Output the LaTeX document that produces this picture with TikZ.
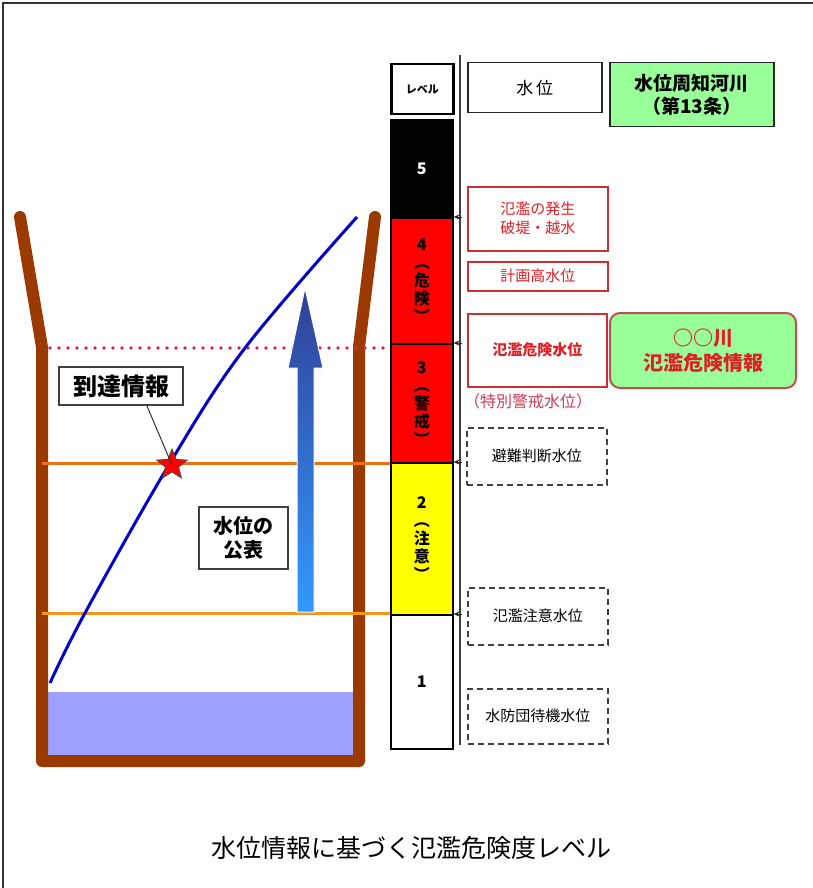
\documentclass[tikz,border=0pt]{standalone}
\usepackage{fontspec}
\setmainfont{Noto Sans CJK JP}
\usetikzlibrary{shapes.geometric,arrows.meta}
\definecolor{riverbrown}{RGB}{155,58,0}
\definecolor{lvred}{RGB}{255,0,0}
\definecolor{lvyellow}{RGB}{255,255,0}
\definecolor{lgreen}{RGB}{153,255,153}
\definecolor{boxred}{RGB}{200,50,55}
\definecolor{txtred}{RGB}{225,30,35}
\definecolor{pinkred}{RGB}{205,60,90}
\definecolor{roundborder}{RGB}{192,80,77}
\definecolor{waterblue}{RGB}{160,160,255}
\definecolor{orangeA}{RGB}{240,110,20}
\definecolor{orangeB}{RGB}{247,150,30}
\definecolor{dotred}{RGB}{230,30,60}
\definecolor{curveblue}{RGB}{0,0,200}
\definecolor{arrowtop}{RGB}{48,64,150}
\definecolor{arrowbot}{RGB}{51,153,255}
\newcommand\fsz[2]{\fontsize{#1}{#2}\selectfont}
\tikzset{
  lvbox/.style={draw=black, line width=1.5pt, minimum width=62pt, inner sep=0pt, anchor=north west, align=center, font=\fsz{16}{18}\bfseries},
  plainbox/.style={draw=black!85, line width=1.5pt, inner sep=0pt, anchor=north west, align=center},
  redbox/.style={draw=boxred, line width=1.5pt, inner sep=0pt, anchor=north west, align=center, text=txtred, font=\fsz{15}{19}},
  dashbox/.style={draw=black!75, line width=1.5pt, dash pattern=on 6pt off 4pt, inner sep=0pt, anchor=north west, align=center, font=\fsz{15}{19}},
  calloutbox/.style={draw=black!75, line width=1.2pt, fill=white, inner sep=0pt, align=center, font=\bfseries},
  tinytip/.style={-{Stealth[length=6pt,width=5pt]}, line width=1pt, black!85},
}
\begin{document}
\begin{tikzpicture}[x=1pt,y=-1pt]
\useasboundingbox (0,0) rectangle (813,888);
% outer frame (top and left edges)
\draw[black!80, line width=1.5pt] (3,888) -- (3,3) -- (813,3);

% water
\fill[waterblue] (47,692) rectangle (353,755);
% river banks
\draw[riverbrown, line width=12pt, line join=round, line cap=round]
  (20,217) -- (42,347) -- (42,761) -- (359,761) -- (359,347) -- (375,217);

% levels lines
\draw[dotred, line width=3.6pt, line cap=round, dash pattern=on 0pt off 9pt] (50,348) -- (388,348);
\draw[orangeA, line width=3pt] (42,463) -- (390,463);
\draw[orangeB, line width=3pt] (42,613) -- (390,613);

% blue rising arrow
\shade[top color=arrowtop, bottom color=arrowbot, draw=white, line width=1pt]
  (297,612) -- (297,368) -- (288,368) -- (305,288) -- (323,368) -- (314,368) -- (314,612) -- cycle;

% water level curve
\draw[curveblue, line width=3pt] plot[smooth, tension=0.6] coordinates {(50,683) (85,613) (170,463) (245,348) (357,217)};

% star
\node[star, star points=5, star point ratio=2.3, fill=red, draw=black!70, line width=0.8pt, minimum size=32pt, inner sep=0pt] (star) at (172,465) {};

% callouts
\node[calloutbox, minimum width=124pt, minimum height=38pt, font=\fsz{24}{28}\bfseries] (arrival) at (121,386) {到達情報};
\coordinate (ptr) at (147,406);
\draw[black!80, line width=1pt] (ptr) -- (star.center);
\node[calloutbox, minimum width=89pt, minimum height=62pt, font=\fsz{20}{24}\bfseries] (publish) at (243.5,538) {水位の\\公表};

% level column
\node[lvbox, line width=2.5pt, minimum height=50pt, font=\fsz{11}{13}\bfseries] (lvhead) at (390,63) {レベル};
\node[lvbox, fill=black, text=white, minimum height=98pt] (lv5) at (390,119) {5};
\node[lvbox, fill=lvred, minimum height=126pt] (lv4) at (390,217) {4\\︵\\危\\険\\︶};
\node[lvbox, fill=lvred, minimum height=119pt] (lv3) at (390,343) {3\\︵\\警\\戒\\︶};
\node[lvbox, fill=lvyellow, minimum height=152pt] (lv2) at (390,462) {2\\︵\\注\\意\\︶};
\node[lvbox, fill=white, minimum height=134pt] (lv1) at (390,614) {1};

% vertical divider
\coordinate (vtop) at (460,55);
\coordinate (vbot) at (460,745);
\draw[black!75, line width=1.5pt] (vtop) -- (vbot);

% small pointer tips
\draw[tinytip] ([xshift=8pt]lv4.north east) -- (lv4.north east);
\draw[tinytip] ([xshift=8pt]lv3.north east) -- (lv3.north east);
\draw[tinytip] ([xshift=8pt]lv2.north east) -- (lv2.north east);
\draw[tinytip] ([xshift=8pt]lv1.north east) -- (lv1.north east);

% right column boxes
\node[plainbox, minimum width=134pt, minimum height=50pt, font=\fsz{17}{20}] (wl) at (467,62) {水\,位};
\node[plainbox, fill=lgreen, minimum width=164pt, minimum height=64pt, font=\fsz{19}{23}\bfseries] (notice) at (609,62) {水位周知河川\\（第13条）};

\node[redbox, minimum width=140pt, minimum height=64pt] (flood) at (467,186) {氾濫の発生\\破堤・越水};
\node[redbox, minimum width=140pt, minimum height=29pt] (plan) at (467,261) {計画高水位};
\node[redbox, minimum width=139pt, minimum height=73pt, font=\fsz{15}{19}\bfseries] (danger) at (467,313) {氾濫危険水位};
\node[text=pinkred, font=\fsz{16}{19}, inner sep=0pt] (special) at (528,401) {（特別警戒水位）};
\node[draw=roundborder, line width=2pt, rounded corners=10pt, fill=lgreen, minimum width=186pt, minimum height=75pt, inner sep=0pt, anchor=north west, align=center, text=txtred, font=\fsz{20}{25}\bfseries] (info) at (609,312) {○○川\\氾濫危険情報};

\node[dashbox, minimum width=140pt, minimum height=57pt] (evac) at (466,427) {避難判断水位};
\node[dashbox, minimum width=140pt, minimum height=57pt] (caution) at (467,587) {氾濫注意水位};
\node[dashbox, minimum width=140pt, minimum height=55pt] (standby) at (467,688) {水防団待機水位};

% title
\node[font=\fsz{25}{30}, inner sep=0pt] (title) at (411,848) {水位情報に基づく氾濫危険度レベル};
\end{tikzpicture}
\end{document}
